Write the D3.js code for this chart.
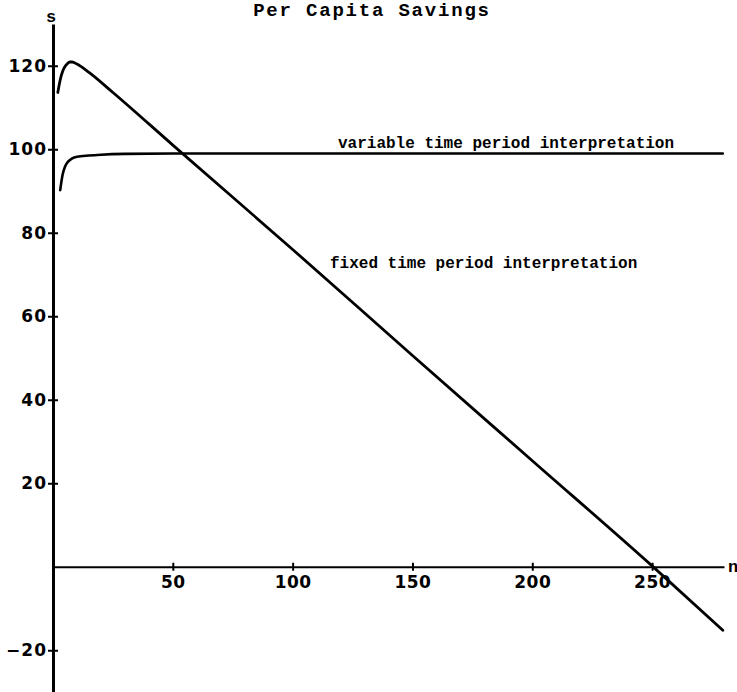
<!DOCTYPE html>
<html>
<head>
<meta charset="utf-8">
<script src="https://cdn.jsdelivr.net/npm/d3@7"></script>
<style>
  body { margin: 0; background: #fff; }
  svg { display: block; }
</style>
</head>
<body>
<div id="chart"></div>
<script>
// values
var fixedN = [2, 3, 4, 5, 6, 7, 8, 10, 15, 25, 50, 100, 150, 200, 250, 279.5];
var fixedS = [113.6, 116.6, 118.6, 119.8, 120.5, 120.9, 120.9, 120.4, 118.4, 113.6, 101, 76, 50.6, 25.4, 0.2, -15.2];
var variableN = [3, 4, 5, 6, 8, 10, 15, 20, 30, 50, 100, 200, 279.5];
var variableS = [90.2, 93.9, 95.8, 96.8, 97.8, 98.2, 98.5, 98.7, 98.9, 99.0, 99.0, 99.0, 99.0];
var xTicks = [50, 100, 150, 200, 250];
var yTicks = [-20, 20, 40, 60, 80, 100, 120];
var labels = ["variable time period interpretation", "fixed time period interpretation"];

var width = 737, height = 692;

var svg = d3.select("#chart").append("svg")
    .attr("width", width)
    .attr("height", height);

var x = d3.scaleLinear().domain([0, 280]).range([53, 724]);
var y = d3.scaleLinear().domain([-30, 130]).range([692, 24]);

var mono = "'Liberation Mono', 'Courier New', monospace";
var sans = "'DejaVu Sans', Verdana, sans-serif";

// x axis
var gx = svg.append("g")
    .attr("transform", "translate(0," + y(0) + ")")
    .call(d3.axisBottom(x).tickValues(xTicks).tickSizeInner(4).tickSizeOuter(0).tickPadding(5));
gx.select(".domain").attr("stroke", "#000").attr("stroke-width", 2.2);
gx.selectAll(".tick line").attr("y1", -4).attr("y2", 4).attr("stroke-width", 2);
gx.selectAll(".tick text")
    .style("font-family", sans).style("font-weight", "bold").style("font-size", "17px")
    .style("letter-spacing", "0.5px")
    .attr("fill", "#000");

// y axis
var gy = svg.append("g")
    .attr("transform", "translate(" + x(0) + ",0)")
    .call(d3.axisLeft(y).tickValues(yTicks).tickSizeInner(5).tickSizeOuter(0).tickPadding(1));
gy.select(".domain").attr("stroke", "#000").attr("stroke-width", 3);
gy.selectAll(".tick line").attr("x1", 5).attr("x2", -5).attr("stroke-width", 2);
gy.selectAll(".tick text")
    .style("font-family", sans).style("font-weight", "bold").style("font-size", "17px")
    .style("letter-spacing", "1px")
    .attr("fill", "#000");

// axis names
svg.append("text")
    .attr("x", x(0) - 2).attr("y", 22)
    .attr("text-anchor", "middle")
    .style("font-family", mono).style("font-weight", "bold").style("font-size", "17px")
    .text("s");
svg.append("text")
    .attr("x", x(280) + 4).attr("y", y(0) + 5)
    .style("font-family", mono).style("font-weight", "bold").style("font-size", "17px")
    .text("n");

// title
svg.append("text")
    .attr("x", 372).attr("y", 16)
    .attr("text-anchor", "middle")
    .style("font-family", mono).style("font-weight", "bold").style("font-size", "19px")
    .style("letter-spacing", "1.8px")
    .text("Per Capita Savings");

// curves
var line = d3.line()
    .x(function (d) { return x(d[0]); })
    .y(function (d) { return y(d[1]); })
    .curve(d3.curveMonotoneX);

svg.append("path")
    .datum(d3.zip(fixedN, fixedS))
    .attr("d", line)
    .attr("fill", "none")
    .attr("stroke", "#000")
    .attr("stroke-width", 2.8)
    .attr("stroke-linecap", "round");

svg.append("path")
    .datum(d3.zip(variableN, variableS))
    .attr("d", line)
    .attr("fill", "none")
    .attr("stroke", "#000")
    .attr("stroke-width", 2.6)
    .attr("stroke-linecap", "round");

// curve labels
svg.append("text")
    .attr("x", 338).attr("y", 148)
    .style("font-family", mono).style("font-weight", "bold").style("font-size", "16px")
    .text(labels[0]);
svg.append("text")
    .attr("x", 330).attr("y", 268)
    .style("font-family", mono).style("font-weight", "bold").style("font-size", "16px")
    .text(labels[1]);
</script>
</body>
</html>
